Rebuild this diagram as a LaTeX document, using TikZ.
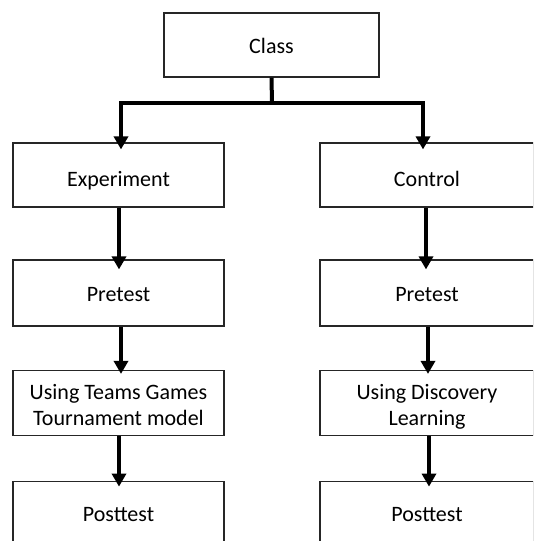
\documentclass[tikz,border=0pt]{standalone}
\usepackage{fontspec}
\setmainfont{Carlito}
\usetikzlibrary{arrows.meta}
\begin{document}
\begin{tikzpicture}[x=1pt,y=-1pt,
  box/.style={draw=black!85,line width=1.2pt,minimum width=211pt,minimum height=65pt,inner sep=0pt,
    text height=21pt,text depth=5pt,
    font=\fontsize{22}{26.5}\selectfont,align=center},
  low/.style={text height=28.4pt},
  two/.style={text height=50pt},
  conn/.style={line width=4pt,draw=black},
  arr/.style={conn,-{Triangle[width=14pt,length=13pt]}}]
\clip (0,0) rectangle (533,541);
\fill[white] (0,0) rectangle (533,541);
\node[box,minimum width=215pt,minimum height=64pt] (class) at (271.5,45) {Class};
\node[box,low,minimum height=64pt] (exp) at (118.5,175) {Experiment};
\node[box,low,minimum width=214pt,minimum height=64pt] (ctl) at (427,175) {Control};
\node[box,minimum height=66pt] (pre1) at (118.5,293) {Pretest};
\node[box,minimum width=214pt,minimum height=66pt] (pre2) at (427,293) {Pretest};
\node[box,two] (use1) at (118.5,403) {Using Teams Games\\Tournament model};
\node[box,two,minimum width=214pt] (use2) at (427,403) {Using Discovery\\Learning};
\node[box] (post1) at (118.5,513.7) {Posttest};
\node[box,minimum width=214pt] (post2) at (427,513.7) {Posttest};
\coordinate (j) at (272,103);
\draw[conn] (class.south) -- (j);
\draw[arr] ([xshift=2pt]j) -| ([xshift=2.5pt,yshift=-7pt]exp.north);
\draw[arr] ([xshift=-2pt]j) -| ([xshift=-4pt,yshift=-7pt]ctl.north);
\draw[arr] ([xshift=0.5pt]exp.south) -- ([xshift=0.5pt,yshift=-10pt]pre1.north);
\draw[arr] ([xshift=2.5pt]pre1.south) -- ([xshift=2.5pt,yshift=-4pt]use1.north);
\draw[arr] ([xshift=0.5pt]use1.south) -- ([xshift=0.5pt,yshift=-6pt]post1.north);
\draw[arr] ([xshift=-1pt]ctl.south) -- ([xshift=-1pt,yshift=-10pt]pre2.north);
\draw[arr] ([xshift=1pt]pre2.south) -- ([xshift=1pt,yshift=-4pt]use2.north);
\draw[arr] ([xshift=2pt]use2.south) -- ([xshift=2pt,yshift=-6pt]post2.north);
\end{tikzpicture}
\end{document}
